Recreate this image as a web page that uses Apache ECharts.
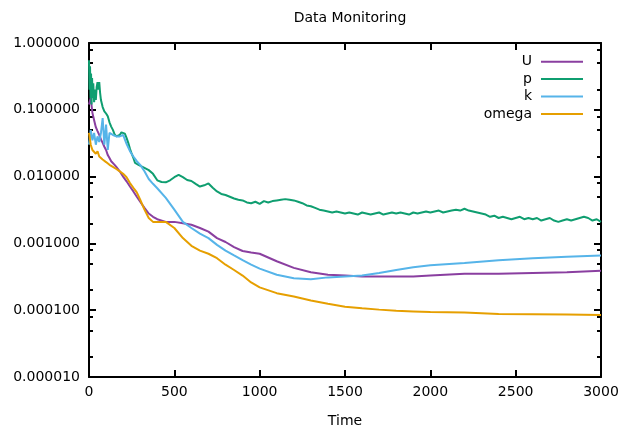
<!DOCTYPE html>
<html style="height: 100%">
<head>
<meta charset="utf-8">
</head>
<body style="height: 100%; margin: 0">
<div id="container" style="width: 622px; height: 430px"></div>
<script type="text/javascript" src="https://cdn.jsdelivr.net/npm/echarts@6/dist/echarts.min.js"></script>
<script type="text/javascript">
// time steps shared by the smooth residuals
var times = [0, 10, 20, 30, 40, 50, 60, 70, 80, 90, 100, 110, 120, 130, 140, 150, 160, 180, 200, 220, 240, 260, 280, 300,
    325, 350, 375, 400, 450, 500, 550, 600, 650, 700, 750, 800, 850, 900, 950, 1000,
    1100, 1200, 1300, 1400, 1500, 1600, 1700, 1800, 1900, 2000, 2200, 2400, 2600, 2800, 3000];

var uRes = [0.12, 0.15, 0.09, 0.07, 0.055, 0.048, 0.042, 0.036, 0.032, 0.028, 0.025, 0.021, 0.019, 0.017, 0.016, 0.015, 0.014, 0.012, 0.010, 0.0085, 0.0071, 0.006, 0.005, 0.0042,
    0.0034, 0.0028, 0.0025, 0.0023, 0.0021, 0.0021, 0.0020, 0.0019, 0.0017, 0.0015, 0.0012, 0.00105, 0.00088, 0.00077, 0.00073, 0.0007,
    0.00054, 0.00043, 0.00037, 0.00034, 0.00033, 0.00032, 0.00032, 0.00032, 0.00032, 0.00033, 0.00035, 0.00035, 0.00036, 0.00037, 0.00039];

var kRes = [0.03, 0.05, 0.035, 0.045, 0.03, 0.04, 0.033, 0.045, 0.075, 0.03, 0.06, 0.025, 0.045, 0.043, 0.042, 0.041, 0.04, 0.04, 0.042, 0.031, 0.024, 0.02, 0.017, 0.015,
    0.012, 0.0092, 0.0078, 0.0067, 0.0048, 0.0032, 0.0021, 0.0017, 0.0014, 0.0012, 0.00095, 0.00078, 0.00066, 0.00056, 0.00048, 0.00042,
    0.00034, 0.0003, 0.00029, 0.00031, 0.00032, 0.00033, 0.00036, 0.0004, 0.00044, 0.00047, 0.00051, 0.00056, 0.0006, 0.00063, 0.00066];

var omegaRes = [0.045, 0.03, 0.025, 0.024, 0.022, 0.024, 0.02, 0.021, 0.018, 0.019, 0.0165, 0.017, 0.015, 0.0145, 0.014, 0.0135, 0.013, 0.012, 0.011, 0.0098, 0.008, 0.0068, 0.0058, 0.0045,
    0.0032, 0.0024, 0.0021, 0.0021, 0.0021, 0.0017, 0.0012, 0.00092, 0.00078, 0.0007, 0.0006, 0.00048, 0.0004, 0.00033, 0.00026, 0.00022,
    0.00018, 0.00016, 0.00014, 0.000125, 0.000113, 0.000107, 0.000102, 0.000098, 0.000096, 0.000094, 0.000092, 0.000088, 0.000087, 0.000086, 0.000085];

// pressure is noisy, so it gets its own denser time steps
var pTimes = [0, 3, 6, 9, 12, 15, 18, 21, 25, 30, 35, 40, 45, 50, 55, 60, 65, 70, 80, 90, 100, 110, 120, 130, 140, 150,
    160, 170, 180, 190, 200, 210, 220, 230, 240, 250, 260, 270, 280, 290, 300,
    325, 350, 375, 400, 425, 450, 475, 500, 525, 550, 575, 600, 625, 650, 675, 700, 725, 750, 775, 800,
    825, 850, 875, 900, 925, 950, 975, 1000, 1025, 1050, 1075, 1100, 1125, 1150, 1175, 1200, 1225, 1250, 1275, 1300,
    1325, 1350, 1375, 1400, 1425, 1450, 1475, 1500, 1525, 1550, 1575, 1600, 1625, 1650, 1675, 1700, 1725, 1750, 1775, 1800,
    1825, 1850, 1875, 1900, 1925, 1950, 1975, 2000, 2025, 2050, 2075, 2100, 2125, 2150, 2175, 2200, 2225, 2250, 2275, 2300,
    2325, 2350, 2375, 2400, 2425, 2450, 2475, 2500, 2525, 2550, 2575, 2600, 2625, 2650, 2675, 2700, 2725, 2750, 2775, 2800,
    2825, 2850, 2875, 2900, 2925, 2950, 2975, 3000];

var pRes = [0.55, 0.2, 0.45, 0.15, 0.35, 0.12, 0.3, 0.15, 0.25, 0.13, 0.2, 0.14, 0.22, 0.26, 0.2, 0.26, 0.18, 0.14, 0.11, 0.095, 0.088, 0.08, 0.065, 0.056, 0.05, 0.043,
    0.04, 0.04, 0.042, 0.046, 0.047, 0.044, 0.038, 0.032, 0.026, 0.022, 0.019, 0.016, 0.016, 0.015, 0.015,
    0.0135, 0.0125, 0.011, 0.0088, 0.0083, 0.0082, 0.0088, 0.0098, 0.0106, 0.0098, 0.0089, 0.0086, 0.0078, 0.0071, 0.0074, 0.0079, 0.0068, 0.006, 0.0055, 0.0053,
    0.005, 0.0047, 0.0045, 0.0044, 0.0041, 0.004, 0.0042, 0.0039, 0.0043, 0.0041, 0.0043, 0.0044, 0.0045, 0.0046, 0.0045, 0.0044, 0.0042, 0.004, 0.0037, 0.0036,
    0.0034, 0.0032, 0.0031, 0.003, 0.0029, 0.003, 0.0029, 0.0028, 0.0029, 0.0028, 0.0027, 0.0029, 0.0028, 0.0027, 0.0028, 0.0029, 0.0027, 0.0028, 0.0029, 0.0028,
    0.0029, 0.0028, 0.0027, 0.0029, 0.0028, 0.0029, 0.003, 0.0029, 0.003, 0.0031, 0.0029, 0.003, 0.0031, 0.0032, 0.0031, 0.0033, 0.0031, 0.003, 0.0029, 0.0028,
    0.0027, 0.0025, 0.0026, 0.0024, 0.0025, 0.0024, 0.0023, 0.0024, 0.0025, 0.0023, 0.0024, 0.0023, 0.0024, 0.0022, 0.0023, 0.0024, 0.0022, 0.0021, 0.0022, 0.0023,
    0.0022, 0.0023, 0.0024, 0.0025, 0.0024, 0.0022, 0.0023, 0.0021];

var names = ['U', 'p', 'k', 'omega'];
var colors = ['#8a3fa0', '#0f9e70', '#56b4e9', '#e69f00'];
var minorSteps = [2, 5, 8];

function pairs(xs, ys) {
    return xs.map(function (x, i) { return [x, ys[i]]; });
}

var minorValues = [];
for (var e = -5; e < 0; e++) {
    minorSteps.forEach(function (m) { minorValues.push(m * Math.pow(10, e)); });
}

var font = 'DejaVu Sans';
var dom = document.getElementById('container');
var myChart = echarts.init(dom);

function yAx(pos, major) {
    return {
        type: 'log', logBase: 10, min: 0.00001, max: 1, position: pos,
        axisLine: { show: major, lineStyle: { color: '#000', width: 2 } },
        axisTick: major ? { inside: true, length: 7, lineStyle: { color: '#000', width: 2 } }
                        : { inside: true, length: 4, customValues: minorValues, lineStyle: { color: '#000', width: 2 } },
        axisLabel: {
            show: major && pos === 'left', margin: 9, color: '#000', fontFamily: font, fontSize: 14,
            formatter: function (v) { return v.toFixed(6); }
        },
        splitLine: { show: false }
    };
}

var option = {
    animation: false,
    backgroundColor: '#fff',
    title: {
        text: 'Data Monitoring', left: 345, top: 6, textAlign: 'center',
        textStyle: { fontFamily: font, fontSize: 14, fontWeight: 'normal', color: '#000' }
    },
    legend: {
        data: names, orient: 'vertical', align: 'right', right: 39, top: 53, padding: 0,
        icon: 'rect', itemWidth: 42, itemHeight: 2, itemGap: 0,
        textStyle: { fontFamily: font, fontSize: 14, lineHeight: 17.4, color: '#000', padding: [0, 4, 0, 0] }
    },
    grid: { left: 89, right: 21, top: 43, bottom: 53, outerBoundsMode: 'none' },
    xAxis: [{
        type: 'value', min: 0, max: 3000, interval: 500, position: 'bottom',
        name: 'Time', nameLocation: 'middle', nameGap: 37,
        nameTextStyle: { fontFamily: font, fontSize: 14, color: '#000' },
        axisLine: { onZero: false, lineStyle: { color: '#000', width: 2 } },
        axisTick: { inside: true, length: 7, lineStyle: { color: '#000', width: 2 } },
        axisLabel: { margin: 8, color: '#000', fontFamily: font, fontSize: 14, formatter: function (v) { return String(v); } },
        splitLine: { show: false }
    }, {
        type: 'value', min: 0, max: 3000, interval: 500, position: 'top',
        axisLine: { onZero: false, lineStyle: { color: '#000', width: 2 } },
        axisTick: { inside: true, length: 7, lineStyle: { color: '#000', width: 2 } },
        axisLabel: { show: false },
        splitLine: { show: false }
    }],
    yAxis: [yAx('left', true), yAx('left', false), yAx('right', true), yAx('right', false)],
    series: [
        { name: names[0], data: pairs(times, uRes) },
        { name: names[1], data: pairs(pTimes, pRes) },
        { name: names[2], data: pairs(times, kRes) },
        { name: names[3], data: pairs(times, omegaRes) }
    ].map(function (s, i) {
        return {
            name: s.name, type: 'line', data: s.data, symbol: 'none',
            xAxisIndex: 0, yAxisIndex: 0, color: colors[i],
            lineStyle: { width: 2, color: colors[i] }
        };
    })
};

myChart.setOption(option);
window.onresize = myChart.resize;
</script>
</body>
</html>
